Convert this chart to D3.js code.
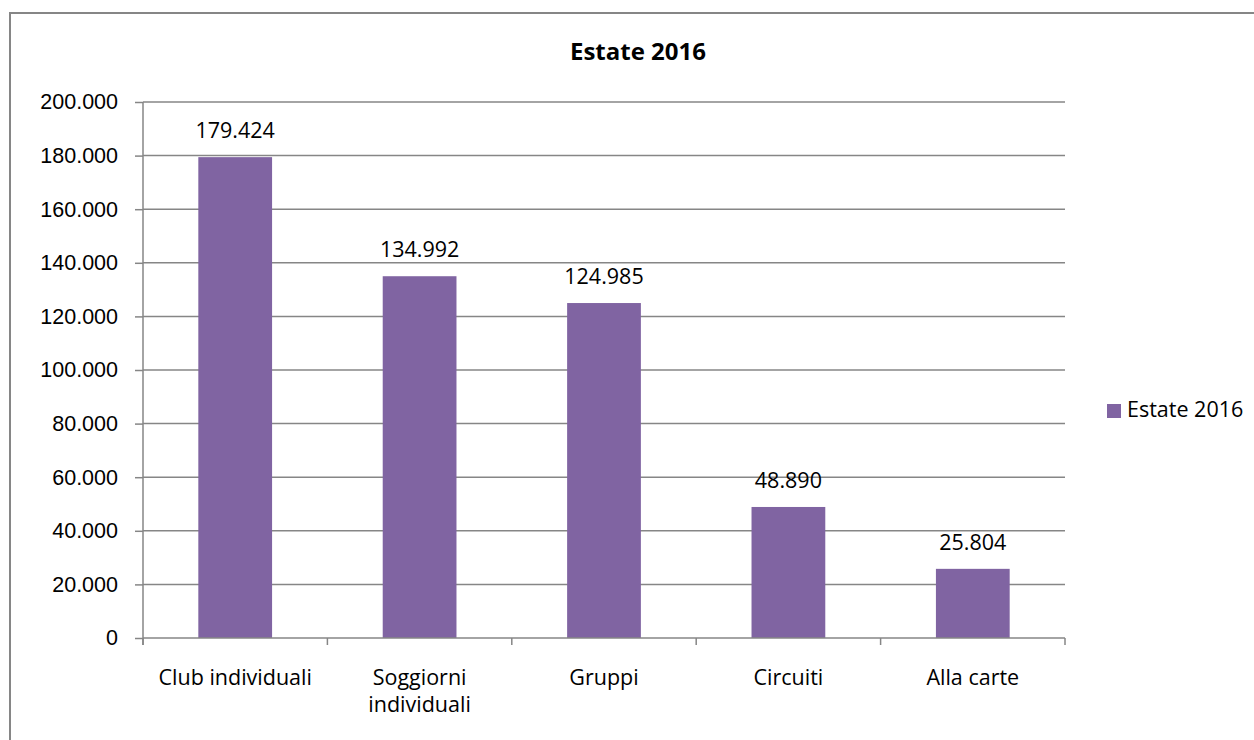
<!DOCTYPE html>
<html lang="it">
<head>
  <meta charset="UTF-8">
  <title>Estate 2016</title>
  <script src="https://d3js.org/d3.v7.min.js"></script>
  <style>
    body { margin: 0; padding: 0; background: #fff; }
    svg { display: block; font-family: "Open Sans", sans-serif; }
  </style>
</head>
<body>
  <svg id="chart" width="1254" height="740"></svg>
  <script>
    const categories = ["Club individuali", "Soggiorni individuali", "Gruppi", "Circuiti", "Alla carte"];
    const values = [179424, 134992, 124985, 48890, 25804];
    const yTicks = [0, 20000, 40000, 60000, 80000, 100000, 120000, 140000, 160000, 180000, 200000];
    const seriesName = "Estate 2016";

    const svg = d3.select("#chart");
    const grey = "#868686", purple = "#8064A2";
    const fs = "21.5px";
    const plot = {left: 143, right: 1065, top: 102, bottom: 638};

    // outer frame
    svg.append("rect")
      .attr("x", 10).attr("y", 13)
      .attr("width", 1260).attr("height", 760)
      .attr("fill", "#fff").attr("stroke", grey).attr("stroke-width", 2);

    const fmt = v => d3.format(",")(v).replace(/,/g, ".");

    const x = d3.scaleBand().domain(categories).range([plot.left, plot.right]).padding(0);
    const y = d3.scaleLinear().domain([0, 200000]).range([plot.bottom, plot.top]);

    // gridlines
    svg.append("g").selectAll("line")
      .data(yTicks.filter(d => d > 0))
      .enter().append("line")
      .attr("x1", plot.left).attr("x2", plot.right)
      .attr("y1", d => y(d)).attr("y2", d => y(d))
      .attr("stroke", grey).attr("stroke-width", 1.5);

    // y axis
    const yAxis = svg.append("g")
      .attr("transform", `translate(${plot.left},0)`)
      .call(d3.axisLeft(y).tickValues(yTicks).tickSize(8).tickPadding(17).tickFormat(fmt));
    yAxis.select(".domain").attr("stroke", grey).attr("stroke-width", 1.5)
      .attr("d", `M0,${plot.top}V${plot.bottom + 7}`);
    yAxis.selectAll(".tick line").attr("stroke", grey).attr("stroke-width", 1.5);
    yAxis.selectAll(".tick text").attr("fill", "#000").style("font-size", fs);

    // bars
    const barW = x.bandwidth() * 0.4;
    svg.append("g").selectAll("rect")
      .data(values)
      .enter().append("rect")
      .attr("x", (d, i) => x(categories[i]) + x.bandwidth() / 2 - barW / 2)
      .attr("y", d => y(d))
      .attr("width", barW)
      .attr("height", d => y(0) - y(d))
      .attr("fill", purple);

    // value labels
    svg.append("g").selectAll("text")
      .data(values)
      .enter().append("text")
      .attr("x", (d, i) => x(categories[i]) + x.bandwidth() / 2)
      .attr("y", d => y(d) - 19)
      .attr("text-anchor", "middle")
      .style("font-size", fs)
      .text(fmt);

    // x axis
    svg.append("line")
      .attr("x1", plot.left).attr("x2", plot.right)
      .attr("y1", plot.bottom).attr("y2", plot.bottom)
      .attr("stroke", grey).attr("stroke-width", 1.5);
    const bounds = categories.map(c => x(c)).concat([plot.right]);
    svg.append("g").selectAll("line")
      .data(bounds)
      .enter().append("line")
      .attr("x1", d => d).attr("x2", d => d)
      .attr("y1", plot.bottom).attr("y2", plot.bottom + 7)
      .attr("stroke", grey).attr("stroke-width", 1.5);

    const xl = svg.append("g").selectAll("text")
      .data(categories)
      .enter().append("text")
      .attr("x", d => x(d) + x.bandwidth() / 2)
      .attr("y", 685)
      .attr("text-anchor", "middle")
      .style("font-size", fs);
    xl.each(function(d) {
      const t = d3.select(this);
      const cx = x(d) + x.bandwidth() / 2;
      t.text(d);
      if (this.getComputedTextLength() > x.bandwidth() - 10) {
        t.text(null);
        d.split(" ").forEach((w, i) => {
          t.append("tspan").attr("x", cx).attr("dy", i ? 27 : 0).text(w);
        });
      }
    });

    // title
    svg.append("text")
      .attr("x", 638).attr("y", 60)
      .attr("text-anchor", "middle")
      .style("font-size", "24px").style("font-weight", "bold")
      .text(seriesName);

    // legend
    svg.append("rect")
      .attr("x", 1107).attr("y", 404).attr("width", 14).attr("height", 14)
      .attr("fill", purple);
    svg.append("text")
      .attr("x", 1127).attr("y", 417)
      .style("font-size", fs)
      .text(seriesName);
  </script>
</body>
</html>
